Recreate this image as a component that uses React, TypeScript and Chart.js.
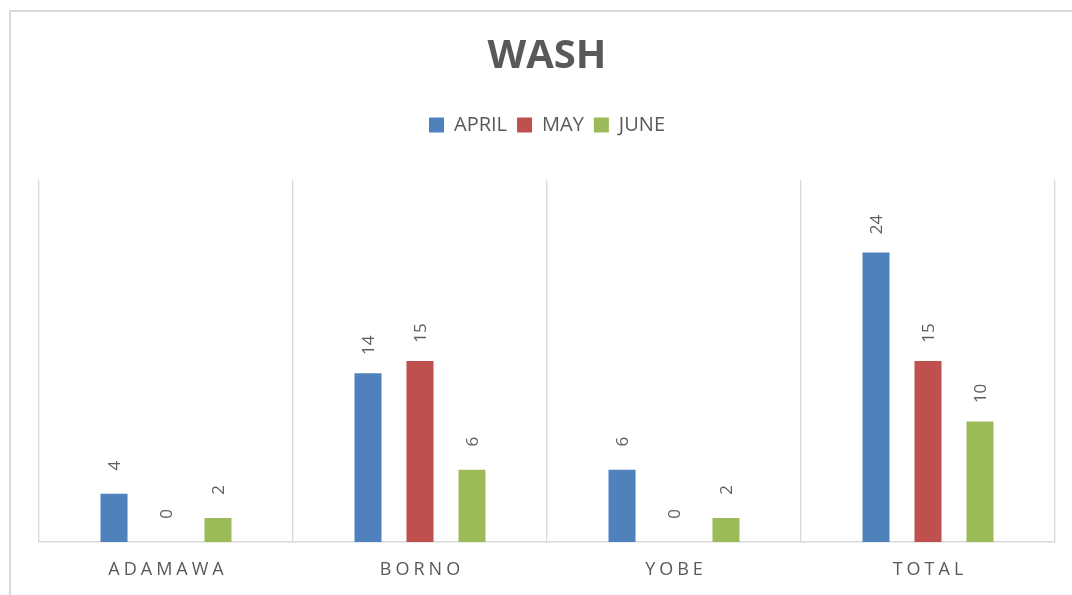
import { useEffect, useRef } from 'react';
import { Chart, registerables } from 'chart.js';

Chart.register(...registerables);

const titleText = 'WASH';
const categories = ['ADAMAWA', 'BORNO', 'YOBE', 'TOTAL'];
const seriesNames = ['APRIL', 'MAY', 'JUNE'];
const aprilValues = [4, 14, 6, 24];
const mayValues = [0, 15, 0, 15];
const juneValues = [2, 6, 2, 10];
const seriesColors = ['#4F81BD', '#C0504D', '#9BBB59'];
const yMax = 30;

const FONT = '"Open Sans", sans-serif';
const GRAY = '#595959';
const GRID = '#D9D9D9';

const framePlugin = {
  id: 'frame',
  beforeDraw(chart: any) {
    const ctx = chart.ctx;
    ctx.save();
    ctx.strokeStyle = GRID;
    ctx.lineWidth = 2;
    ctx.beginPath();
    ctx.moveTo(10, chart.height);
    ctx.lineTo(10, 11);
    ctx.lineTo(chart.width, 11);
    ctx.stroke();
    ctx.restore();
  },
};

const barLabelPlugin = {
  id: 'barLabels',
  afterDatasetsDraw(chart: any) {
    const ctx = chart.ctx;
    ctx.save();
    ctx.font = `17px ${FONT}`;
    ctx.fillStyle = '#5f5f5f';
    ctx.textAlign = 'center';
    ctx.textBaseline = 'middle';
    chart.data.datasets.forEach((ds: any, di: number) => {
      const meta = chart.getDatasetMeta(di);
      meta.data.forEach((bar: any, i: number) => {
        ctx.save();
        ctx.translate(bar.x + 1, bar.y - 28);
        ctx.rotate(-Math.PI / 2);
        ctx.fillText(String(ds.data[i]), 0, 0);
        ctx.restore();
      });
    });
    ctx.restore();
  },
};

const categoryLabelPlugin = {
  id: 'catLabels',
  afterDraw(chart: any) {
    const xs = chart.scales.x;
    const ctx = chart.ctx;
    ctx.save();
    ctx.font = `18px ${FONT}`;
    (ctx as any).letterSpacing = '4px';
    ctx.fillStyle = GRAY;
    ctx.textAlign = 'center';
    ctx.textBaseline = 'middle';
    categories.forEach((c, i) => {
      ctx.fillText(c, xs.getPixelForValue(i) + 2, chart.chartArea.bottom + 28);
    });
    ctx.restore();
  },
};

export default function App() {
  const ref = useRef<HTMLCanvasElement | null>(null);

  useEffect(() => {
    document.body.style.margin = '0';
    const canvas = ref.current;
    if (!canvas) return;
    const values = [aprilValues, mayValues, juneValues];
    const chart = new Chart(canvas, {
      type: 'bar',
      data: {
        labels: categories,
        datasets: seriesNames.map((name, i) => ({
          label: name,
          data: values[i],
          backgroundColor: seriesColors[i],
          borderWidth: 0,
          categoryPercentage: 0.614,
          barPercentage: 0.52,
        })),
      },
      options: {
        responsive: false,
        animation: false,
        layout: { padding: { left: 39, right: 17, top: 0, bottom: 53 } },
        plugins: {
          title: {
            display: true,
            text: titleText,
            color: GRAY,
            font: { family: FONT, size: 40, weight: 'bold' },
            padding: { top: 33, bottom: 24 },
          },
          subtitle: {
            display: true,
            text: '',
            weight: 500,
            font: { size: 1 },
            padding: { top: 0, bottom: 34 },
          } as any,
          legend: {
            position: 'top',
            labels: {
              boxWidth: 15,
              boxHeight: 15,
              padding: 10,
              color: GRAY,
              font: { family: FONT, size: 20 },
            },
          },
          tooltip: { enabled: false },
        },
        scales: {
          x: {
            grid: { color: GRID, lineWidth: 1.3, drawTicks: false },
            border: { color: GRID, width: 1.5 },
            ticks: { display: false },
          },
          y: {
            display: false,
            min: 0,
            max: yMax,
          },
        },
      },
      plugins: [framePlugin, barLabelPlugin, categoryLabelPlugin],
    });
    return () => chart.destroy();
  }, []);

  return <canvas ref={ref} width={1072} height={595} style={{ display: 'block' }} />;
}
